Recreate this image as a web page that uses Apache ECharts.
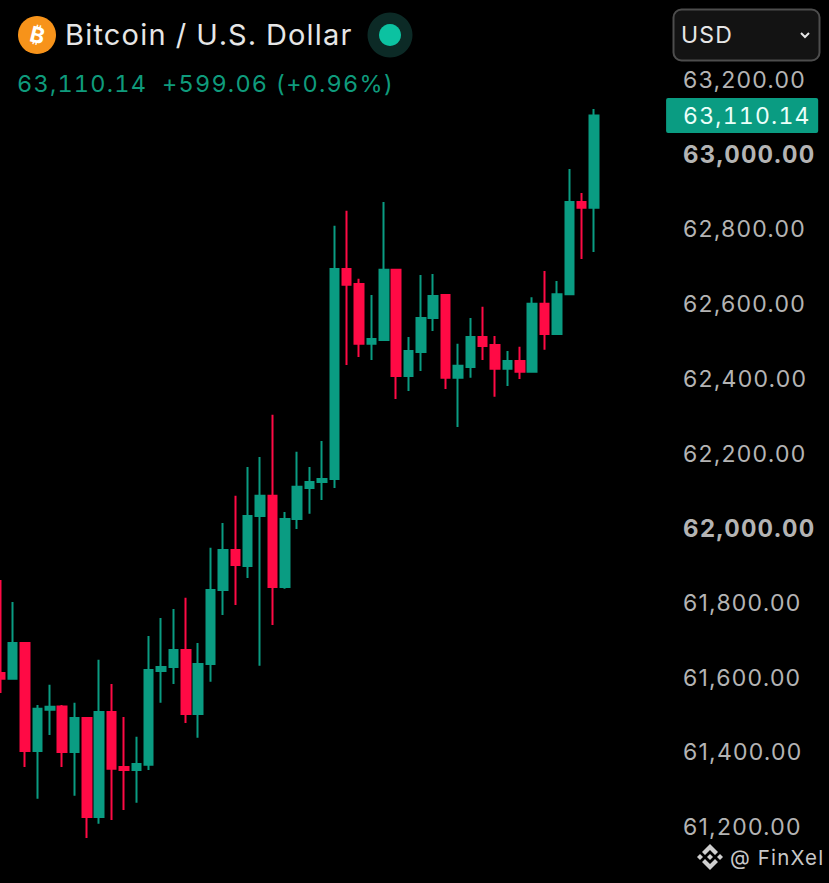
<!DOCTYPE html>
<html>
<head>
<meta charset="utf-8">
<style>html,body{margin:0;padding:0;background:#000}#c{width:829px;height:883px}
text{font-variant-numeric:tabular-nums;font-feature-settings:"tnum" 1;letter-spacing:1.2px}</style>
<script src="https://cdn.jsdelivr.net/npm/echarts@6/dist/echarts.min.js"></script>
</head>
<body>
<div id="c"></div>
<script>
const categories = Array.from({length: 49}, (_, i) => 'C' + (i + 1));
const opens  = [61618,61602,61698,61409,61519,61528,61406,61497,61232,61513,61366,61358,61372,61623,61634,61679,61508,61642,61840,61947,61904,62038,62092,61848,62030,62113,62129,62137,62699,62659,62499,62509,62697,62413,62477,62568,62630,62408,62437,62517,62496,62432,62453,62424,62606,62525,62632,62879,62863];
const closes = [61602,61698,61409,61522,61527,61406,61497,61232,61513,61361,61358,61374,61626,61634,61679,61508,61642,61840,61947,61907,62038,62092,61848,62030,62116,62129,62137,62699,62657,62499,62512,62697,62413,62480,62568,62627,62408,62440,62517,62493,62432,62453,62424,62606,62525,62632,62879,62863,63110.14];
const lows   = [61564,61602,61366,61281,61452,61366,61289,61176,61214,61224,61251,61270,61358,61538,61588,61484,61444,61594,61773,61800,61872,61637,61746,61843,62003,62044,62081,62113,62442,62464,62456,62509,62351,62373,62426,62533,62378,62276,62408,62456,62357,62386,62405,62424,62483,62525,62632,62726,62745];
const highs  = [61867,61808,61698,61532,61586,61532,61538,61500,61653,61588,61500,61447,61717,61765,61789,61819,61698,61953,62019,62092,62169,62196,62309,62049,62210,62169,62239,62815,62855,62673,62630,62879,62697,62517,62683,62686,62630,62499,62568,62598,62520,62480,62491,62624,62694,62667,62967,62903,63128];
const tickValues = [63200,63000,62800,62600,62400,62200,62000,61800,61600,61400,61200];
const boldTicks = [63000,62000];
const lastPrice = 63110.14;
const headline = 'Bitcoin / U.S. Dollar';
const quote = '63,110.14  +599.06 (+0.96%)';
const UP = '#0a9c82', DOWN = '#ff0a45';
const FONT = 'Inter';

const fmt = v => v.toLocaleString('en-US', {minimumFractionDigits: 2, maximumFractionDigits: 2});
const chart = echarts.init(document.getElementById('c'), null, {renderer: 'svg'});

const ohlc = categories.map((_, i) => [opens[i], closes[i], lows[i], highs[i]]);
const xCats = categories.concat(['', '', '', '', '']);

chart.setOption({
  backgroundColor: '#000',
  animation: false,
  textStyle: {fontFamily: FONT},
  title: [
    {text: headline, left: 65, top: 20, padding: 0,
     textStyle: {color: '#e6e6e6', fontSize: 29, fontWeight: 400, fontFamily: FONT}},
    {text: quote, left: 17, top: 71, padding: 0,
     textStyle: {color: '#0f9b7c', fontSize: 23.5, fontWeight: 400, fontFamily: FONT}}
  ],
  grid: {left: -5.9, top: 82, width: 668, height: 821.7, outerBoundsMode: 'none'},
  xAxis: {type: 'category', data: xCats, boundaryGap: true,
    axisLine: {show: false}, axisTick: {show: false}, axisLabel: {show: false}, splitLine: {show: false}},
  yAxis: {type: 'value', position: 'right', min: 61000, max: 63200, interval: 200, scale: true,
    axisLine: {show: false}, axisTick: {show: false}, splitLine: {show: false},
    axisLabel: {
      margin: 21, align: 'left', fontSize: 23, color: '#b4b4b4', fontFamily: FONT,
      padding: [0, 0, 4, 0],
      formatter: v => tickValues.includes(v) ? (boldTicks.includes(v) ? '{b|' + fmt(v) + '}' : fmt(v)) : '',
      rich: {b: {fontSize: 24, fontWeight: 700, color: '#b4b4b4', fontFamily: FONT}}
    }},
  series: [{
    type: 'candlestick', data: ohlc, barWidth: 9,
    itemStyle: {color: UP, color0: DOWN, borderColor: UP, borderColor0: DOWN, borderWidth: 2},
    markLine: {
      silent: true, symbol: 'none', animation: false,
      lineStyle: {color: 'transparent', width: 0},
      data: [{yAxis: lastPrice}],
      label: {
        show: true, position: 'end', distance: 4, formatter: fmt(lastPrice), opacity: 1,
        color: '#eafff9', fontSize: 23, fontFamily: FONT, align: 'left',
        backgroundColor: UP, borderRadius: 2,
        padding: [6, 41, 6, 17]
      }
    }
  }],
  graphic: [
    {type: 'circle', shape: {cx: 37, cy: 35, r: 19}, style: {fill: '#f7931a'}},
    {type: 'text', x: 38, y: 35, rotation: -0.24, style: {text: '₿', fill: '#fff', fontSize: 22, fontWeight: 700, fontFamily: FONT, align: 'center', verticalAlign: 'middle'}},
    {type: 'circle', shape: {cx: 390, cy: 35, r: 22.5}, style: {fill: '#0c2a26'}},
    {type: 'circle', shape: {cx: 390, cy: 35, r: 11}, style: {fill: '#0cc2a1'}},
    {type: 'rect', shape: {x: 673.5, y: 9.5, width: 146, height: 51, r: 8}, style: {fill: '#131313', stroke: '#4d4d4d', lineWidth: 2}},
    {type: 'text', x: 681, y: 35, style: {text: 'USD', fill: '#e6e6e6', fontSize: 23, fontFamily: FONT, verticalAlign: 'middle'}},
    {type: 'polyline', shape: {points: [[801, 33], [805, 37], [809, 33]]}, style: {stroke: '#e6e6e6', lineWidth: 2, fill: 'none'}},
    {type: 'group', x: 710, y: 857, silent: true, children: [
      {type: 'polygon', shape: {points: [[0,-13],[8,-5],[5,-2],[0,-7],[-5,-2],[-8,-5]]}, style: {fill: '#cfcfcf'}},
      {type: 'polygon', shape: {points: [[0,13],[8,5],[5,2],[0,7],[-5,2],[-8,5]]}, style: {fill: '#cfcfcf'}},
      {type: 'polygon', shape: {points: [[0,-3],[3,0],[0,3],[-3,0]]}, style: {fill: '#cfcfcf'}},
      {type: 'polygon', shape: {points: [[-10,-3],[-7,0],[-10,3],[-13,0]]}, style: {fill: '#cfcfcf'}},
      {type: 'polygon', shape: {points: [[10,-3],[13,0],[10,3],[7,0]]}, style: {fill: '#cfcfcf'}}
    ]},
    {type: 'text', x: 730, y: 857, style: {text: '@ FinXel', fill: '#c8c8c8', fontSize: 20.5, fontFamily: FONT, verticalAlign: 'middle'}}
  ]
});
</script>
</body>
</html>
